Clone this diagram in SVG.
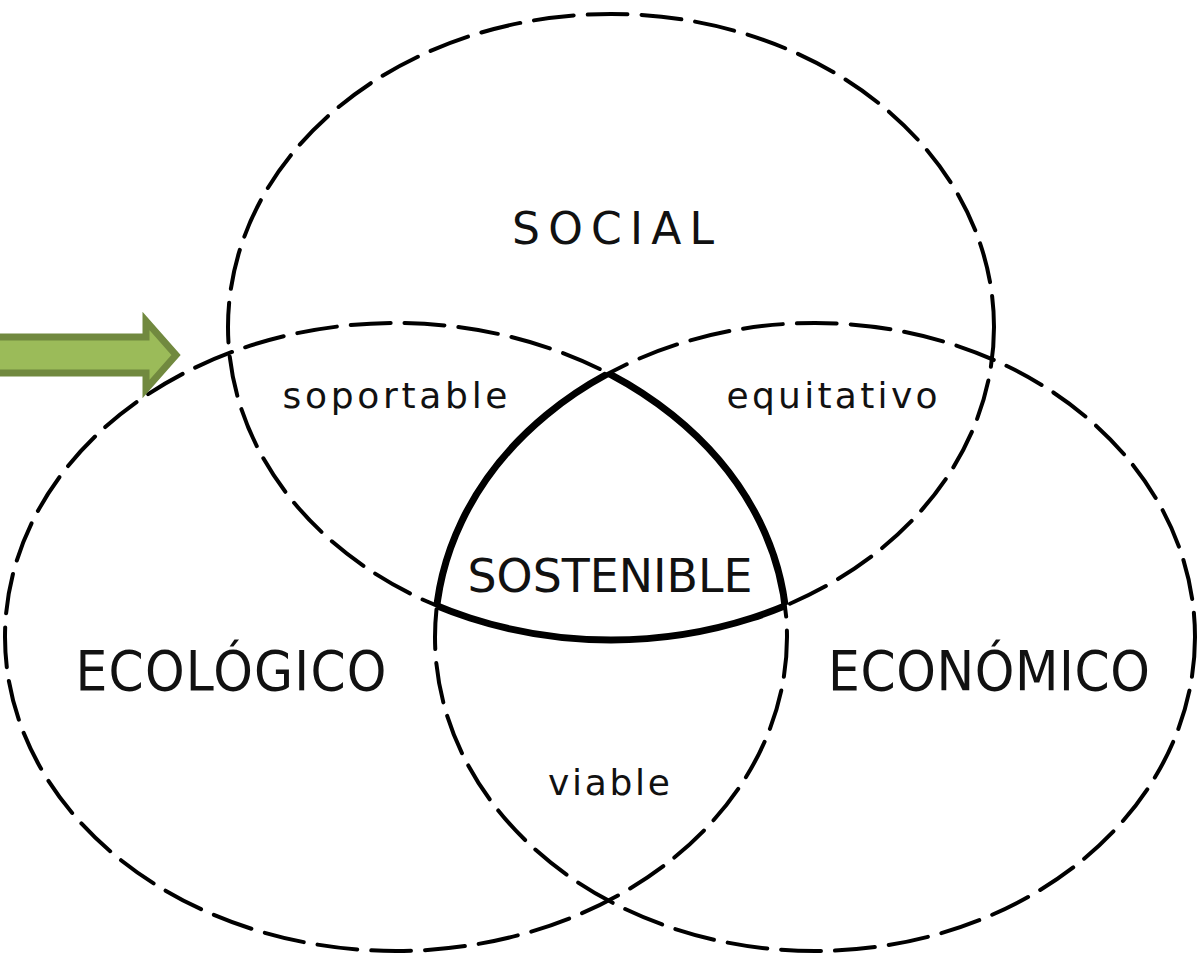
<svg xmlns="http://www.w3.org/2000/svg" width="1200" height="960" viewBox="0 0 1200 960">
<style>
.dash{fill:none;stroke:#000;stroke-width:4;stroke-dasharray:40 14;stroke-linecap:round}
.thick{fill:none;stroke:#000;stroke-width:7}
.t{font-family:"DejaVu Sans",sans-serif;fill:#111;text-anchor:middle}
.c{font-family:"DejaVu Sans Condensed","DejaVu Sans",sans-serif;fill:#111;text-anchor:middle}
</style>
<defs>
<clipPath id="cS"><ellipse cx="611" cy="327" rx="383" ry="313"/></clipPath>
<clipPath id="cL"><ellipse cx="396" cy="637" rx="391" ry="314"/></clipPath>
<clipPath id="cR"><ellipse cx="815" cy="637" rx="380" ry="314"/></clipPath>
</defs>
<rect width="1200" height="960" fill="#fff"/>
<g id="connectors">
<ellipse class="dash" cx="611" cy="327" rx="383" ry="313"/>
<ellipse class="dash" cx="396" cy="637" rx="391" ry="314"/>
<ellipse class="dash" cx="815" cy="637" rx="380" ry="314"/>
<g clip-path="url(#cL)"><g clip-path="url(#cR)"><ellipse class="thick" cx="611" cy="327" rx="383" ry="313"/></g></g>
<g clip-path="url(#cS)"><g clip-path="url(#cR)"><ellipse class="thick" cx="396" cy="637" rx="391" ry="314"/></g></g>
<g clip-path="url(#cS)"><g clip-path="url(#cL)"><ellipse class="thick" cx="815" cy="637" rx="380" ry="314"/></g></g>
</g>
<g id="arrow">
<polygon points="-10,337 146,337 146,321 176,355 146,389 146,373 -10,373" fill="#9BBB59" stroke="#71893F" stroke-width="7"/>
</g>
<g id="social"><text class="t" x="613" y="244" font-size="44" textLength="202" lengthAdjust="spacing">SOCIAL</text></g>
<g id="soportable"><text class="t" x="395" y="408" font-size="36" textLength="225" lengthAdjust="spacing">soportable</text></g>
<g id="equitativo"><text class="t" x="832" y="408" font-size="36" textLength="211" lengthAdjust="spacing">equitativo</text></g>
<g id="sostenible"><text class="t" x="610" y="592" font-size="46" textLength="285" lengthAdjust="spacingAndGlyphs">SOSTENIBLE</text></g>
<g id="ecologico"><text class="c" x="231" y="690" font-size="56" textLength="311" lengthAdjust="spacing">ECOLÓGICO</text></g>
<g id="economico"><text class="c" x="989" y="690" font-size="56" textLength="322" lengthAdjust="spacing">ECONÓMICO</text></g>
<g id="viable"><text class="t" x="609" y="795" font-size="36" textLength="122" lengthAdjust="spacing">viable</text></g>
</svg>
